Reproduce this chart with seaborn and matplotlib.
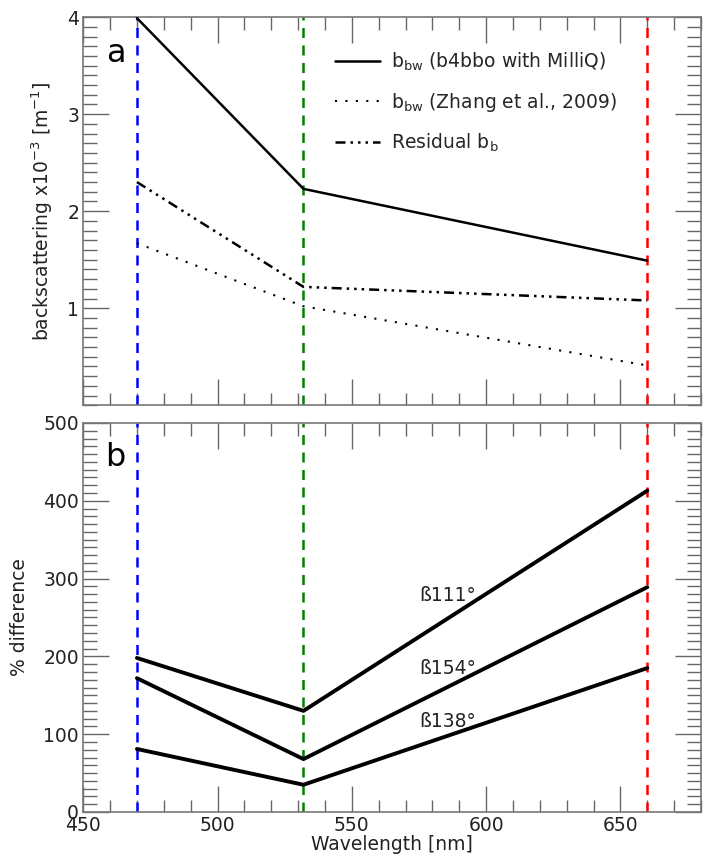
import numpy as np
import pandas as pd
import matplotlib
matplotlib.use("Agg")
import matplotlib.pyplot as plt
import seaborn as sns
from matplotlib.ticker import MultipleLocator, FixedLocator

sns.set_style("white")
plt.rcParams['font.family'] = ['DejaVu Sans']

wavelengths = [470, 532, 660]
bbw_milliq = [3.99, 2.23, 1.49]
bbw_zhang = [1.67, 1.02, 0.41]
residual_bb = [2.30, 1.22, 1.08]

beta111 = [198, 130, 413]
beta154 = [172, 68, 289]
beta138 = [81, 35, 185]
angle_labels = ["ß111°", "ß154°", "ß138°"]
label_pos = [(575, 278), (575, 185), (575, 116)]

line_colors = {470: "#0000ff", 532: "#008000", 660: "#ff0000"}

FS = 13.5
TXT = "#222222"

fig = plt.figure(figsize=(7.11, 8.55), dpi=100)
ax1 = fig.add_axes([0.117, 0.526, 0.869, 0.454])
ax2 = fig.add_axes([0.117, 0.0503, 0.869, 0.455])

for ax in (ax1, ax2):
    for wl, c in line_colors.items():
        ax.axvline(wl, color=c, ls=(0, (4, 3)), lw=1.8, zorder=1)

sns.lineplot(x=wavelengths, y=bbw_milliq, ax=ax1, color="black", lw=1.8,
             label=r"b$_{\rm bw}$ (b4bbo with MilliQ)", zorder=3)
sns.lineplot(x=wavelengths, y=bbw_zhang, ax=ax1, color="black", lw=1.5,
             linestyle=(0, (1, 4)), label=r"b$_{\rm bw}$ (Zhang et al., 2009)", zorder=3)
sns.lineplot(x=wavelengths, y=residual_bb, ax=ax1, color="black", lw=1.8,
             linestyle=(0, (4, 2, 1, 2, 1, 2, 1, 2)), label=r"Residual b$_{\rm b}$", zorder=3)

for vals in (beta111, beta154, beta138):
    sns.lineplot(x=wavelengths, y=vals, ax=ax2, color="black", lw=2.8, zorder=3)
for lab, (x, y) in zip(angle_labels, label_pos):
    ax2.text(x, y, lab, fontsize=FS, color=TXT, ha="left", va="center")

ax1.set_xlim(450, 680)
ax1.set_ylim(0, 4)
ax1.yaxis.set_major_locator(FixedLocator([1, 2, 3, 4]))
ax1.yaxis.set_minor_locator(MultipleLocator(0.1))
ax1.set_xticklabels([])
ax1.set_ylabel(r"backscattering x10$^{-3}$ [m$^{-1}$]", fontsize=FS, color=TXT, labelpad=9)
ax1.text(462, 3.63, "a", fontsize=23, ha="center", va="center", color="black")
leg = ax1.legend(loc="upper left", bbox_to_anchor=(0.38, 0.957), frameon=False,
                 fontsize=FS, handlelength=2.4, labelspacing=0.95, handletextpad=0.6)

ax2.set_xlim(450, 680)
ax2.set_ylim(0, 500)
ax2.yaxis.set_major_locator(MultipleLocator(100))
ax2.yaxis.set_minor_locator(MultipleLocator(10))
ax2.set_ylabel("% difference", fontsize=FS, color=TXT, labelpad=10)
ax2.set_xlabel("Wavelength [nm]", fontsize=FS, color=TXT, labelpad=0)
ax2.text(462, 455, "b", fontsize=23, ha="center", va="center", color="black")

for ax in (ax1, ax2):
    ax.xaxis.set_major_locator(MultipleLocator(50))
    ax.xaxis.set_minor_locator(MultipleLocator(10))
    ax.tick_params(which="major", direction="in", length=19, width=1,
                   color="#666666", top=True, right=True, labelsize=FS,
                   labelcolor=TXT, bottom=True, left=True, pad=3)
    ax.tick_params(which="minor", direction="in", length=10, width=1,
                   color="#666666", top=True, right=True, bottom=True, left=True)
    ax.tick_params(axis="x", which="minor", length=9)
    for s in ax.spines.values():
        s.set_color("#777777")
        s.set_linewidth(1.2)

fig.savefig("out.png", dpi=100)
